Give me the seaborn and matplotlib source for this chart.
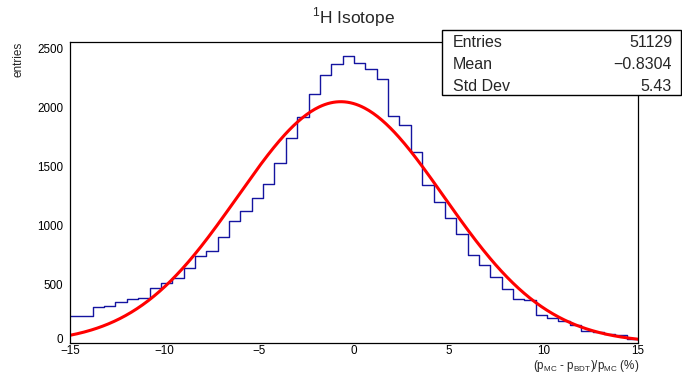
import numpy as np
import pandas as pd
import matplotlib
matplotlib.use("Agg")
import matplotlib.pyplot as plt
from matplotlib.ticker import MultipleLocator, FuncFormatter
import seaborn as sns

# ---- data ----
bin_edges_lo = -15.0
bin_edges_hi = 15.0
n_bins = 50
counts = [229, 229, 302, 316, 350, 375, 385, 463, 506, 554,
          636, 740, 780, 898, 1031, 1116, 1229, 1345, 1525, 1737,
          1912, 2110, 2268, 2362, 2432, 2370, 2322, 2240, 1926, 1845,
          1621, 1342, 1195, 1062, 926, 743, 658, 559, 458, 372,
          368, 235, 212, 186, 153, 104, 90, 76, 65, 36]
# Gaussian fit parameters (constant, mean, sigma)
fit_const = 2045.0
fit_mean = -0.7
fit_sigma = 5.45
stats_labels = ["Entries", "Mean", "Std Dev"]
stats_values = ["51129", "\u22120.8304", "5.43"]
title_text = r"$^{1}$H Isotope"
xlabel_text = r"(p$_{\mathrm{MC}}$ - p$_{\mathrm{BDT}}$)/p$_{\mathrm{MC}}$ (%)"
ylabel_text = "entries"

sns.set_style("white")
plt.rcParams["font.family"] = ["Liberation Sans", "DejaVu Sans"]
plt.rcParams["mathtext.fontset"] = "custom"
plt.rcParams["mathtext.rm"] = "Liberation Sans"

width = (bin_edges_hi - bin_edges_lo) / n_bins
centers = bin_edges_lo + width * (np.arange(n_bins) + 0.5)
df = pd.DataFrame({"x": centers, "w": counts})

xf = np.linspace(bin_edges_lo, bin_edges_hi, 400)
fit_df = pd.DataFrame({"x": xf,
                       "y": fit_const * np.exp(-0.5 * ((xf - fit_mean) / fit_sigma) ** 2)})

fig = plt.figure(figsize=(6.82, 3.73), dpi=100)
ax = fig.add_axes([70 / 682, 1 - 343 / 373, (638 - 70) / 682, (343 - 42) / 373])

sns.histplot(data=df, x="x", weights="w", bins=n_bins,
             binrange=(bin_edges_lo, bin_edges_hi), element="step",
             fill=False, color="#1414a0", linewidth=1.0, ax=ax)
sns.lineplot(data=fit_df, x="x", y="y", color="#ff0000", linewidth=2.2, ax=ax)

ax.set_xlim(bin_edges_lo, bin_edges_hi)
ax.set_ylim(0, 2551)
ax.xaxis.set_major_locator(MultipleLocator(5))
ax.xaxis.set_minor_locator(MultipleLocator(1))
ax.yaxis.set_major_locator(MultipleLocator(500))
ax.yaxis.set_minor_locator(MultipleLocator(100))
ax.tick_params(axis="both", which="both", direction="in", top=False, right=False,
               colors="black", labelsize=8.4, width=0.9)
ax.tick_params(axis="y", which="major", length=11, pad=5)
ax.tick_params(axis="y", which="minor", length=5.5)
ax.tick_params(axis="x", which="major", length=6, pad=1.8)
ax.tick_params(axis="x", which="minor", length=3.2)
ax.xaxis.set_major_formatter(FuncFormatter(lambda v, p: ("\u2212%d" % abs(v)) if v < 0 else "%d" % v))

for s in ax.spines.values():
    s.set_color("black")
    s.set_linewidth(0.9)

ax.set_xlabel("")
ax.set_ylabel("")
fig.text(639 / 682, 1 - 368.5 / 373, xlabel_text, ha="right", va="baseline", fontsize=8.4)
fig.text(18 / 682, 1 - 42 / 373, ylabel_text, ha="center", va="top", rotation=90, fontsize=8.5)
fig.text(354 / 682, 1 - 23 / 373, title_text, ha="center", va="baseline", fontsize=12.5)

# stats box
box = plt.Rectangle((442 / 682, 1 - 95 / 373), (681 - 442) / 682, (95 - 30) / 373,
                    transform=fig.transFigure, facecolor="white", edgecolor="black",
                    linewidth=1.0, zorder=5)
fig.add_artist(box)
row_y = [47, 69, 91]
for lab, val, yy in zip(stats_labels, stats_values, row_y):
    fig.text(453 / 682, 1 - yy / 373, lab, ha="left", va="baseline", fontsize=11.5, zorder=6)
    fig.text(672 / 682, 1 - yy / 373, val, ha="right", va="baseline", fontsize=11.5, zorder=6)

# keep the "0" label of the y axis just clear of the "-15" label below it
fig.canvas.draw()
for t in ax.yaxis.get_major_ticks():
    if abs(t.get_loc()) < 1e-9:
        t.label1.set_verticalalignment("baseline")

fig.savefig("out.png", dpi=100)
